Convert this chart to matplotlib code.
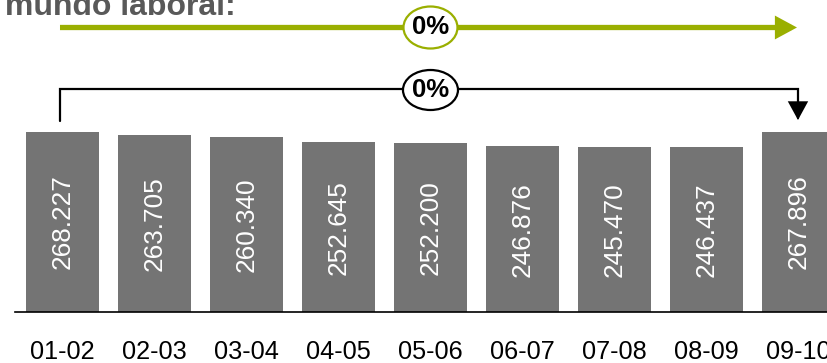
import matplotlib
matplotlib.use("Agg")
import matplotlib.pyplot as plt
from matplotlib.patches import FancyArrowPatch, Ellipse
from matplotlib.path import Path
from matplotlib.transforms import blended_transform_factory

plt.rcParams['font.family'] = ['Liberation Sans', 'DejaVu Sans']

categories = ["01-02", "02-03", "03-04", "04-05", "05-06", "06-07", "07-08", "08-09", "09-10"]
values = [268227, 263705, 260340, 252645, 252200, 246876, 245470, 246437, 267896]
labels = ["268.227", "263.705", "260.340", "252.645", "252.200", "246.876", "245.470", "246.437", "267.896"]
change_top = "0%"
change_bracket = "0%"
title = "mundo laboral:"

W, H = 827, 363
fig = plt.figure(figsize=(W / 100, H / 100), dpi=100)
ax = fig.add_axes([15 / W, 51 / H, 812 / W, 312 / H])

bar_color = "#747474"
green = "#9AAF00"

x = list(range(len(categories)))
ax.bar(x, values, width=0.8, color=bar_color, edgecolor="none")
for xi, v, lab in zip(x, values, labels):
    ax.text(xi, v / 2, lab, rotation=90, ha="center", va="center",
            color="white", fontsize=18.8)

ax.set_xlim(-0.516, 8.31)
ax.set_ylim(0, max(values) * 312 / 180)
ax.set_xticks(x)
ax.set_xticklabels(categories, fontsize=18.2)
ax.tick_params(axis="x", length=0, pad=20.5)
ax.set_yticks([])
for s in ["left", "right", "top"]:
    ax.spines[s].set_visible(False)
ax.spines["bottom"].set_linewidth(1.2)
ax.spines["bottom"].set_color("black")

tr = blended_transform_factory(ax.transData, ax.transAxes)

# green arrow at top
y_g = (312 - 27.5) / 312
x0 = -0.027
x1 = 8 - 1.5 / 92
ga = FancyArrowPatch((x0, y_g), (x1, y_g), transform=tr,
                     arrowstyle="-|>,head_length=10,head_width=5.4",
                     mutation_scale=1, color=green, lw=3.8,
                     shrinkA=0, shrinkB=0, clip_on=False,
                     capstyle="butt", joinstyle="miter")
ax.add_patch(ga)

# black bracket arrow
y_b = (312 - 88.5) / 312
y_bl = (312 - 121) / 312
y_br = (312 - 120) / 312
xb0 = -0.027
xb1 = 8 - 0.5 / 92
path = Path([(xb0, y_bl), (xb0, y_b), (xb1, y_b), (xb1, y_br)])
ba = FancyArrowPatch(path=path, transform=tr,
                     arrowstyle="-|>,head_length=11,head_width=6",
                     mutation_scale=1, color="black", lw=1.6,
                     shrinkA=0, shrinkB=0, clip_on=False,
                     joinstyle="miter")
ax.add_patch(ba)

# ellipses with labels
xc = (x[0] + x[-1]) / 2
e1 = Ellipse((xc, y_g), 54 / 92, 42 / 312, transform=tr, facecolor="white",
             edgecolor=green, lw=1.6, clip_on=False, zorder=5)
ax.add_patch(e1)
ax.text(xc, y_g, change_top, transform=tr, ha="center", va="center",
        fontsize=18.5, fontweight="bold", color="black", zorder=6)
e2 = Ellipse((xc, (312 - 90) / 312), 55 / 92, 40 / 312, transform=tr,
             facecolor="white", edgecolor="black", lw=1.6, clip_on=False, zorder=5)
ax.add_patch(e2)
ax.text(xc, (312 - 90) / 312, change_bracket, transform=tr, ha="center",
        va="center", fontsize=18.5, fontweight="bold", color="black", zorder=6)

fig.text(5 / W, (H - 15) / H, title, ha="left", va="baseline", fontsize=23,
         fontweight="bold", color="#595959")

fig.savefig("out.png", dpi=100)
